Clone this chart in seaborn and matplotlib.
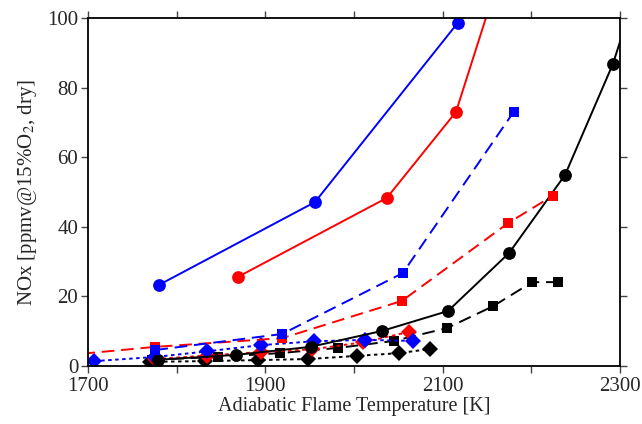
import matplotlib
matplotlib.use("Agg")
import matplotlib.pyplot as plt
import seaborn as sns
import pandas as pd
from matplotlib.ticker import MultipleLocator

# Adiabatic flame temperature [K] and NOx [ppmv @ 15% O2, dry] per case
blue_solid_T = [1780, 1956, 2117]
blue_solid_nox = [23.3, 47.1, 98.6]

red_solid_T = [1869, 2037, 2115, 2165]
red_solid_nox = [25.6, 48.3, 73.0, 113.0]

blue_dash_T = [1776, 1919, 2055, 2180]
blue_dash_nox = [4.6, 9.2, 26.7, 73.0]

red_dash_T = [1650, 1776, 1919, 2054, 2174, 2224]
red_dash_nox = [2.5, 5.5, 8.0, 18.7, 41.1, 48.9]

black_solid_T = [1779, 1867, 1951, 2032, 2106, 2175, 2238, 2292, 2340]
black_solid_nox = [1.8, 3.2, 5.5, 10.1, 15.8, 32.5, 54.9, 86.8, 125.0]

black_dash_T = [1772, 1847, 1916, 1982, 2045, 2105, 2157, 2201, 2230]
black_dash_nox = [1.8, 2.6, 3.7, 5.2, 7.2, 10.9, 17.2, 24.1, 24.1]

blue_dot_T = [1707, 1776, 1834, 1895, 1955, 2012, 2067]
blue_dot_nox = [1.4, 2.6, 4.2, 6.0, 7.1, 7.5, 7.2]

red_dot_T = [1776, 1834, 1895, 1953, 2010, 2062]
red_dot_nox = [2.0, 3.0, 4.0, 4.8, 6.8, 9.8]

black_dot_T = [1770, 1832, 1892, 1948, 2003, 2051, 2086]
black_dot_nox = [1.2, 1.4, 1.7, 2.0, 2.9, 3.7, 4.9]

x_ticks = [1700, 1900, 2100, 2300]
y_ticks = [0, 20, 40, 60, 80, 100]

sns.set_theme(style="ticks")
plt.rcParams["font.family"] = ["Liberation Serif", "DejaVu Serif"]
plt.rcParams["mathtext.fontset"] = "stix"

fig = plt.figure(figsize=(6.42, 4.24), dpi=100)
ax = fig.add_axes([88 / 642, 1 - 366 / 424, 532 / 642, 348 / 424])

solid = "-"
dashed = (0, (6.5, 3.5))
dotted = (0, (1.8, 1.8))

series = [
    (black_dot_T, black_dot_nox, "black", "D", dotted, 7.8),
    (black_dash_T, black_dash_nox, "black", "s", dashed, 7.6),
    (red_dot_T, red_dot_nox, "red", "D", dotted, 7.8),
    (blue_dot_T, blue_dot_nox, "blue", "D", dotted, 7.8),
    (black_solid_T, black_solid_nox, "black", "o", solid, 9.2),
    (red_dash_T, red_dash_nox, "red", "s", dashed, 7.6),
    (blue_dash_T, blue_dash_nox, "blue", "s", dashed, 7.6),
    (red_solid_T, red_solid_nox, "red", "o", solid, 9.2),
    (blue_solid_T, blue_solid_nox, "blue", "o", solid, 9.2),
]

for T, nox, color, marker, ls, ms in series:
    df = pd.DataFrame({"T": T, "NOx": nox})
    sns.lineplot(data=df, x="T", y="NOx", ax=ax, color=color, marker=marker,
                 markersize=ms, markeredgewidth=0, linestyle=ls, linewidth=1.4,
                 estimator=None, sort=False, legend=False)

ax.set_xlim(1700, 2300)
ax.set_ylim(0, 100)
ax.set_xticks(x_ticks)
ax.xaxis.set_minor_locator(MultipleLocator(100))
ax.set_yticks(y_ticks)

for side in ["left", "right", "top", "bottom"]:
    ax.spines[side].set_visible(True)
    ax.spines[side].set_linewidth(1.3)
    ax.spines[side].set_color("black")

ax.tick_params(which="both", direction="out", length=5, width=1.0,
               color="#444444", top=True, right=True, labelsize=15)
ax.tick_params(axis="x", which="both", pad=3)
ax.tick_params(axis="y", which="both", pad=2)
ax.tick_params(which="minor", labelbottom=False)

ax.set_xlabel("Adiabatic Flame Temperature [K]", fontsize=14.5, labelpad=1)
ax.set_ylabel("NOx [ppmv@15%O$_2$, dry]", fontsize=15, labelpad=6)

fig.savefig("out.png", dpi=100)
